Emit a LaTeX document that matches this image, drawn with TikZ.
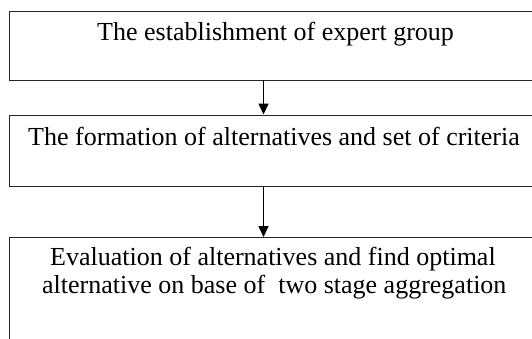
\documentclass[tikz,border=0pt]{standalone}
\usepackage{fontspec}
\setmainfont{Liberation Serif}
\usetikzlibrary{arrows.meta}
\begin{document}
\begin{tikzpicture}[x=1pt,y=1pt,
  stepbox/.style={draw=black!85,line width=1.2pt,rectangle,anchor=north west,inner sep=0pt,minimum width=540pt},
  label/.style={anchor=base west,inner sep=0pt,font=\fontsize{26}{28}\selectfont},
  flow/.style={draw=black,line width=1.6pt,-{Triangle[width=10pt,length=11pt]}}]
\useasboundingbox (0,0) rectangle (532,-338);
\clip (0,0) rectangle (532,-338);
\node[stepbox,minimum height=69pt] (b1) at (9,-11) {};
\node[stepbox,minimum height=71pt] (b2) at (9,-114.5) {};
\node[stepbox,minimum height=120pt] (b3) at (9,-237) {};
\node[label] (t1) at (97,-40) {The establishment of expert group};
\node[label] (t2) at (28,-145) {The formation of alternatives and set of criteria};
\node[label] (t3) at (50,-265) {Evaluation of alternatives and find optimal};
\node[label] (t4) at (42,-293) {alternative on base of \ two stage aggregation};
\coordinate (a1) at (263.5,-80);
\coordinate (a2) at (263.5,-185.5);
\draw[flow] (a1) -- (a1 |- b2.north);
\draw[flow] (a2) -- (a2 |- b3.north);
\end{tikzpicture}
\end{document}
